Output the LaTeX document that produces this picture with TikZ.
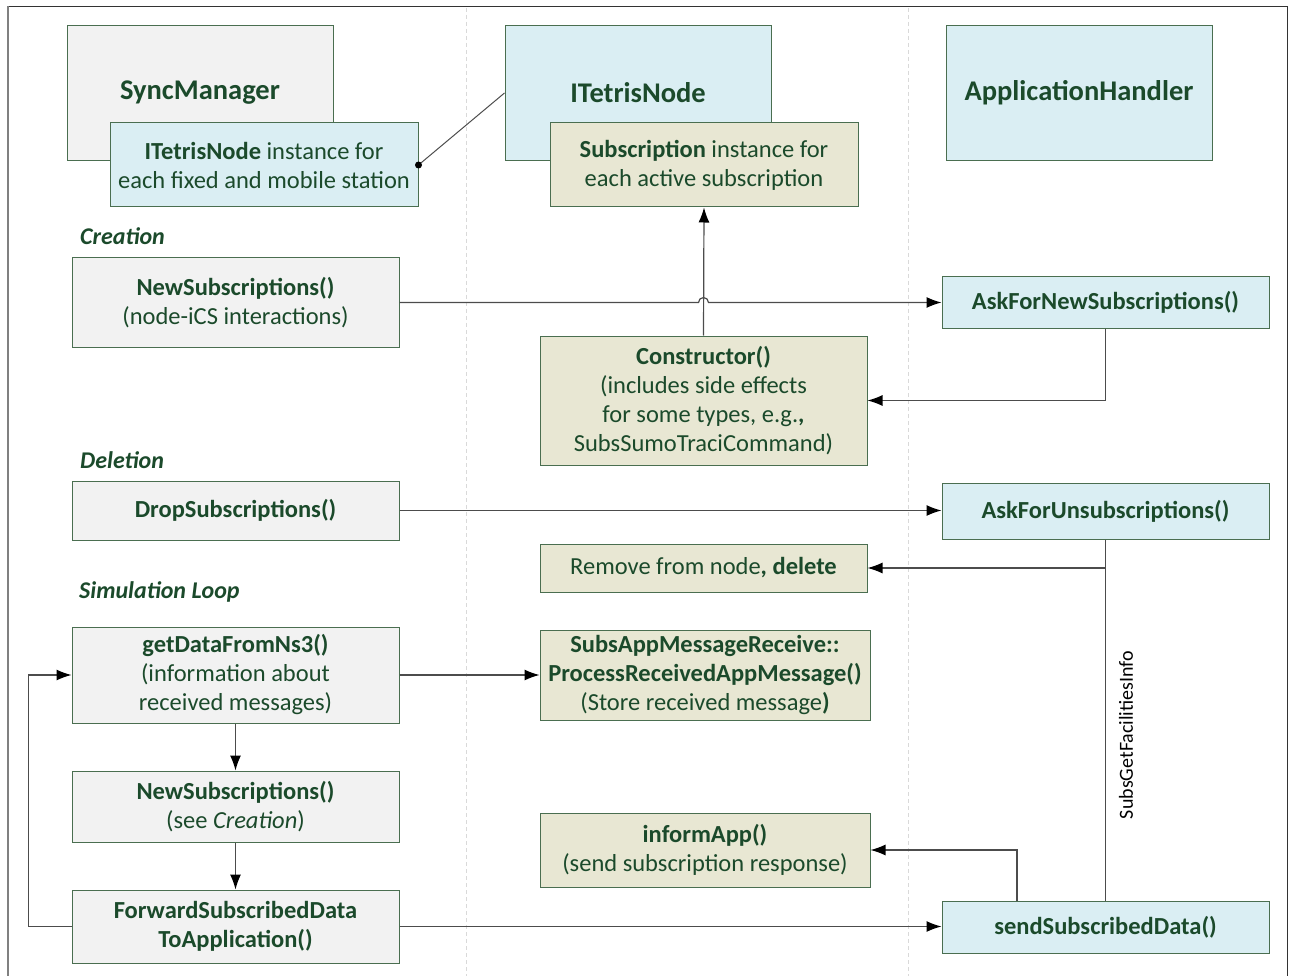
\documentclass[tikz,border=0pt]{standalone}
\usepackage{fontspec}
\setmainfont{Carlito}
\usetikzlibrary{arrows.meta}

\definecolor{txt}{HTML}{1B4A2B}
\definecolor{edge}{HTML}{4A6E50}
\definecolor{fgray}{HTML}{F2F2F2}
\definecolor{fblue}{HTML}{DAEEF3}
\definecolor{fbeige}{HTML}{E8E7D3}

\tikzset{
  box/.style={draw=edge, line width=1pt, text=txt, align=center, inner sep=0pt,
              font=\fontsize{24.5}{29}\selectfont},
  graybox/.style={box, fill=fgray},
  bluebox/.style={box, fill=fblue},
  beigebox/.style={box, fill=fbeige},
  classbox/.style={font=\fontsize{28.5}{34}\selectfont\bfseries,
                   minimum width=266pt, minimum height=135pt},
  link/.style={line width=1.2pt, draw=black!70},
  arr/.style={link, -{Latex[length=15pt,width=11pt,black]}},
  heading/.style={text=txt, font=\fontsize{24}{29}\selectfont\bfseries\itshape,
                  anchor=west, inner sep=0pt},
  lane/.style={dashed, dash pattern=on 4pt off 3pt, draw=black!15, line width=0.8pt},
}

\begin{document}
\begin{tikzpicture}[x=1pt, y=-1pt]
  \useasboundingbox (0,0) rectangle (1293,976);

  % frame and lane separators
  \draw[lane] (466,8) -- (466,976);
  \draw[lane] (908,8) -- (908,976);
  \draw[black!80, line width=1pt] (7,7) -- (1287,7) -- (1287,976);
  \draw[black!50, line width=2pt] (8,6) -- (8,976);

  % classes
  \node[graybox, classbox] (sync) at (200,93) {SyncManager};
  \node[bluebox, minimum width=308pt, minimum height=84pt] (inst) at (264,165)
       {\textbf{ITetrisNode} instance for\\each fixed and mobile station};
  \node[bluebox, classbox] (itn) at (638,93) {ITetrisNode};
  \node[beigebox, minimum width=308pt, minimum height=84pt] (subi) at (704,165)
       {\textbf{Subscription} instance for\\each active subscription};
  \node[bluebox, classbox] (apph) at (1079,93) {ApplicationHandler};

  \draw[link, line width=1pt] (inst.east) -- (itn.west);
  \fill[black] (inst.east) circle[radius=3.5pt];

  % creation
  \node[heading] (hcreate) at (80,236) {Creation};
  \node[graybox, minimum width=327pt, minimum height=89pt] (newsub) at (235.5,302.5)
       {\textbf{NewSubscriptions()}\\(node-iCS interactions)};
  \node[bluebox, minimum width=327pt, minimum height=51pt] (asknew) at (1105.5,302.5)
       {\textbf{AskForNewSubscriptions()}};
  \node[beigebox, minimum width=327pt, minimum height=129pt] (ctor) at (703.5,400.5)
       {\textbf{Constructor()}\\(includes side effects\\for some types, e.g.\textbf{,}\\SubsSumoTraciCommand)};

  \coordinate (jump) at (ctor.north |- newsub.east);
  \draw[arr] (newsub.east) -- ([xshift=-5pt]jump)
       arc[start angle=180, end angle=0, radius=5pt] -- (asknew.west);
  \draw[arr] (ctor.north) -- (subi.south);
  \draw[arr] (asknew.south) |- (ctor.east);

  % deletion
  \node[heading] (hdelete) at (80,460) {Deletion};
  \node[graybox, minimum width=327pt, minimum height=59pt] (drop) at (235.5,510.5)
       {\textbf{DropSubscriptions()}};
  \node[bluebox, minimum width=327pt, minimum height=56pt] (askun) at (1105.5,511)
       {\textbf{AskForUnsubscriptions()}};
  \node[beigebox, minimum width=327pt, minimum height=48pt] (remove) at (703.5,568)
       {Remove from node\textbf{, delete}};

  \draw[arr] (drop.east) -- (drop.east -| askun.west);

  % simulation loop
  \node[heading] (hloop) at (79,592) {Simulation Loop};
  \node[graybox, minimum width=327pt, minimum height=96pt] (getdata) at (235.5,675)
       {\textbf{getDataFromNs3()}\\(information about\\received messages)};
  \node[beigebox, minimum width=330pt, minimum height=90pt] (subsapp) at (705,675)
       {\textbf{SubsAppMessageReceive::}\\\textbf{ProcessReceivedAppMessage()}\\(Store received message\textbf{)}};
  \node[graybox, minimum width=327pt, minimum height=71pt] (newsub2) at (235.5,806.5)
       {\textbf{NewSubscriptions()}\\(see \textit{Creation})};
  \node[beigebox, minimum width=330pt, minimum height=74pt] (inform) at (705,850)
       {\textbf{informApp()}\\(send subscription response)};
  \node[graybox, minimum width=327pt, minimum height=73pt] (forward) at (235.5,926.5)
       {\textbf{ForwardSubscribedData}\\\textbf{ToApplication()}};
  \node[bluebox, minimum width=327pt, minimum height=52pt] (send) at (1105.5,927)
       {\textbf{sendSubscribedData()}};

  \draw[link] (askun.south) -- (send.north);
  \node[text=black, font=\fontsize{20}{24}\selectfont, rotate=90, inner sep=0pt]
       (facil) at (1126,735) {SubsGetFacilitiesInfo};
  \draw[arr] (askun.south |- remove.east) -- (remove.east);

  \draw[arr] (getdata.east) -- (subsapp.west);
  \draw[arr] (getdata.south) -- (newsub2.north);
  \draw[arr] (newsub2.south) -- (forward.north);
  \draw[arr] (forward.west) -- ++(-43,0) |- (getdata.west);
  \draw[arr] (forward.east) -- (forward.east -| send.west);
  \draw[arr] ([xshift=-88.5pt]send.north) |- (inform.east);
\end{tikzpicture}
\end{document}
